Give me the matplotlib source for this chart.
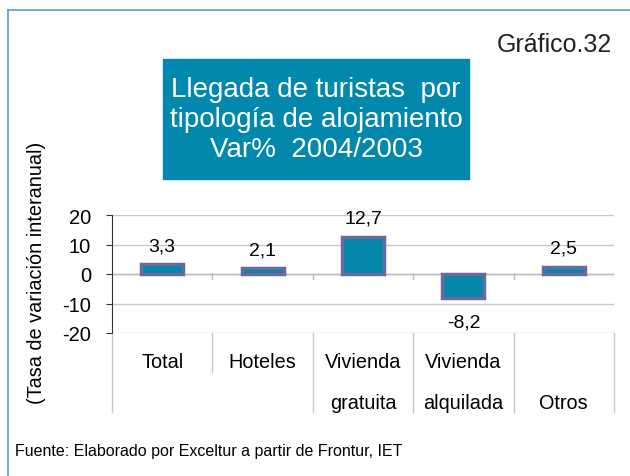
import matplotlib.pyplot as plt
from matplotlib.lines import Line2D

plt.rcParams['font.family'] = ['Liberation Sans', 'DejaVu Sans']

# datos
categorias = ["Total", "Hoteles", "Vivienda\ngratuita", "Vivienda\nalquilada", "\nOtros"]
valores = [3.3, 2.1, 12.7, -8.2, 2.5]
etiquetas = ["3,3", "2,1", "12,7", "-8,2", "2,5"]
yticks = [-20, -10, 0, 10, 20]

fig = plt.figure(figsize=(6.3, 4.77), dpi=100)
W, H = 630, 477

# marco azul (solo izquierda y arriba visibles)
fig.add_artist(Line2D([8 / W, 8 / W], [0, 1 - 11 / H], color='#4c9fd3', lw=1.2))
fig.add_artist(Line2D([8 / W, 1], [1 - 11 / H, 1 - 11 / H], color='#4c9fd3', lw=1.2))

ax = fig.add_axes([112 / W, 1 - 334 / H, (614 - 112) / W, (334 - 216) / H])
x = list(range(len(valores)))
ax.bar(x, valores, width=0.42, color='#0387ab', edgecolor='#6a6a9c', linewidth=2.5, zorder=3)
ax.set_xlim(-0.5, len(valores) - 0.5)
ax.set_ylim(-20, 20)
ax.set_yticks(yticks)
ax.set_yticklabels([str(t) for t in yticks], fontsize=14.5)
ax.grid(axis='y', color='#c8c8c8', lw=1, zorder=0)
for s in ['top', 'right', 'bottom']:
    ax.spines[s].set_visible(False)
ax.spines['left'].set_color('#333333')
ax.tick_params(axis='y', length=4, color='#333333', pad=11)
ax.tick_params(axis='x', length=0, labelbottom=False)
ax.axhline(0, color='#bbbbbb', lw=1, zorder=2)

# pequeñas marcas en el eje 0
for b in [0.5, 1.5, 2.5, 3.5]:
    ax.plot([b, b], [0, -1.8], color='#bbbbbb', lw=1, zorder=2)

# etiquetas de datos
for xi, v, t in zip(x, valores, etiquetas):
    if v >= 0:
        ax.annotate(t, (xi, v), xytext=(0, 7), textcoords='offset points',
                    ha='center', va='bottom', fontsize=14)
    else:
        ax.annotate(t, (xi, v), xytext=(0, -11), textcoords='offset points',
                    ha='center', va='top', fontsize=14)

# tabla de categorías bajo el gráfico
tr = ax.get_xaxis_transform()
for b, y0 in [(-0.5, -0.67), (0.5, -0.33), (1.5, -0.67), (2.5, -0.67), (3.5, -0.67), (4.5, -0.67)]:
    ax.plot([b, b], [0, y0], color='#c8c8c8', lw=1, transform=tr, clip_on=False)
for xi, c in zip(x, categorias):
    partes = c.split("\n")
    for k, p in enumerate(partes):
        if p:
            ax.text(xi, -0.245 - 0.34 * k, p, transform=tr, ha='center', va='center', fontsize=14.3)

ax.set_ylabel("(Tasa de variación interanual)", fontsize=14.3)
ax.yaxis.set_label_coords((46 - 112) / (614 - 112), 0.52)

# títulos
fig.text(612 / W, 1 - 45 / H, "Gráfico.32", ha='right', va='center', fontsize=18, color='#222222')
fig.patches.append(plt.Rectangle((163 / W, 1 - 180 / H), (469 - 163) / W, 120 / H,
                                 transform=fig.transFigure, color='#0288ad', zorder=0))
fig.text(316 / W, 1 - 120 / H, "Llegada de turistas  por\ntipología de alojamiento\nVar%  2004/2003",
         ha='center', va='center', fontsize=20, color='white', linespacing=1.2)

fig.text(15 / W, 1 - 452 / H, "Fuente: Elaborado por Exceltur a partir de Frontur, IET",
         ha='left', va='center', fontsize=11.5)

fig.savefig('out.png', dpi=100)
